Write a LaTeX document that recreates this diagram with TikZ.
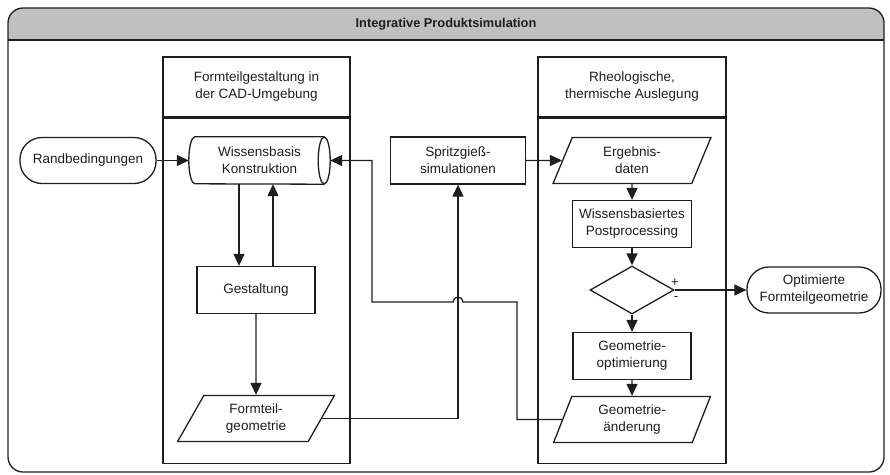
\documentclass[tikz,border=0pt]{standalone}
\usepackage{fontspec}
\setmainfont{Liberation Sans}
\usetikzlibrary{shapes.geometric,arrows.meta,calc}
\definecolor{linec}{HTML}{1E1E1E}
\definecolor{headgray}{HTML}{C0C0C0}
\begin{document}
\begin{tikzpicture}[x=1pt,y=-1pt,
  every node/.style={font=\fontsize{13.5}{17}\selectfont, align=center, text=linec, inner sep=0pt},
  line/.style={draw=linec, line width=1.3pt},
  conn/.style={draw=linec, line width=1.3pt, -{Triangle[length=12pt,width=11pt]}},
  procbox/.style={line, rectangle, minimum width=#1, minimum height=47pt},
  terminal/.style={line, rectangle, rounded corners=22pt, minimum width=#1, minimum height=46pt},
  iobox/.style={line, trapezium, trapezium stretches=true, trapezium left angle=#1,
    trapezium right angle=180-#1, minimum width=158pt, minimum height=46pt},
  lanehead/.style={line, rectangle, minimum width=#1, minimum height=60pt},
  signlabel/.style={font=\fontsize{13}{15}\selectfont},
]
\useasboundingbox (0,0) rectangle (890,474);

% outer frame with grey title bar
\fill[headgray] [rounded corners=15pt] (8,40) -- (8,8) -- (884,8) [sharp corners] -- (884,40) -- cycle;
\draw[line, rounded corners=15pt] (8,8) rectangle (884,472);
\draw[line] (8,40) -- (884,40);
\node[font=\bfseries\fontsize{12.8}{15}\selectfont] (title) at (446,24) {Integrative Produktsimulation};

% swim lanes
\node[lanehead=187pt] (hL) at (256.5,87) {Formteilgestaltung in\\der CAD-Umgebung};
\node[line, rectangle, minimum width=187pt, minimum height=345pt, anchor=north] (bL) at (hL.south) {};
\node[lanehead=188pt] (hR) at (632,87) {Rheologische,\\thermische Auslegung};
\node[line, rectangle, minimum width=188pt, minimum height=345pt, anchor=north] (bR) at (hR.south) {};

% nodes
\node[terminal=136pt] (rb) at (88,160.5) {Randbedingungen};
\node[minimum width=141pt, minimum height=47pt] (wb) at (259.5,160.5) {Wissensbasis\\Konstruktion};
\draw[line] ([xshift=-6pt]wb.east) ellipse [x radius=6pt, y radius=23.5pt];
\draw[line] ([xshift=-6pt]wb.north east) -- ([xshift=6pt]wb.north west)
  arc[start angle=90, end angle=270, x radius=6pt, y radius=23.5pt]
  -- ([xshift=-6pt]wb.south east);
\node[procbox=118pt] (ge) at (256,290) {Gestaltung};
\node[iobox=63] (fg) at (256,418.5) {Formteil-\\geometrie};
\node[procbox=135pt] (sp) at (458,160.5) {Spritzgieß-\\simulationen};
\node[iobox=71] (ed) at (632,160.5) {Ergebnis-\\daten};
\node[procbox=119pt] (pp) at (632,224) {Wissensbasiertes\\Postprocessing};
\node[line, diamond, aspect=1.75, minimum width=84pt, minimum height=48pt] (di) at (632,290) {};
\node[signlabel] (plus) at (675,283) {+};
\node[signlabel] (minus) at (676,299) {-};
\node[terminal=134pt] (op) at (814,290) {Optimierte\\Formteilgeometrie};
\node[procbox=118pt] (go) at (632,356) {Geometrie-\\optimierung};
\node[iobox=71] (ga) at (632,419.5) {Geometrie-\\änderung};

% connectors
\coordinate (c1) at (517,302);
\coordinate (hopR) at (463,302);
\coordinate (c2) at (372,302);
\draw[conn] (rb.east) -- (wb.west);
\draw[conn] ([xshift=-20.5pt]wb.south) -- ([xshift=-17pt]ge.north);
\draw[conn] ([xshift=17pt]ge.north) -- ([xshift=13.5pt]wb.south);
\draw[conn] (ge.south) -- (fg.north);
\draw[conn] (fg.east) -| (sp.south);
\draw[conn] (sp.east) -- (ed.west);
\draw[conn] (ed.south) -- (pp.north);
\draw[conn] (pp.south) -- (di.north);
\draw[conn] (di.south) -- (go.north);
\draw[conn] (go.south) -- (ga.north);
\draw[conn] (di.east) -- (op.west);
\draw[conn] (ga.west) -| (c1) -- (hopR) arc[start angle=0, end angle=180, radius=5pt] -- (c2) |- (wb.east);
\end{tikzpicture}
\end{document}
